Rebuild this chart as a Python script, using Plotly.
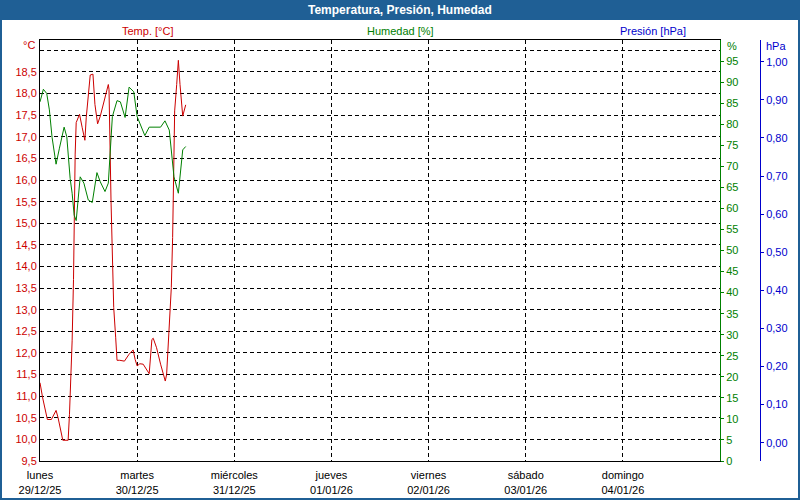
import plotly.graph_objects as go
import pandas as pd

START = pd.Timestamp("2025-12-29 00:00")

# Temperature (°C) readings: hours since start, values
temp_hours = [0.0, 0.66, 1.82, 2.81, 3.97, 4.47, 5.63, 6.95, 7.28, 7.61, 7.94, 8.28, 8.44, 8.69,
              8.94, 9.77, 10.43, 11.09, 11.42, 12.08, 12.41, 13.08, 13.57, 14.23, 14.90, 16.88,
              17.05, 17.55, 17.88, 18.21, 18.70, 19.03, 19.70, 20.86, 22.01, 23.01, 23.50, 24.00,
              24.66, 25.49, 26.98, 27.64, 27.97, 28.80, 29.79, 30.46, 30.95, 31.28, 31.61, 31.78,
              32.11, 32.44, 32.77, 32.94, 33.27, 33.77, 34.18, 34.59, 35.26, 36.00]
temp_values = [11.31, 10.96, 10.46, 10.46, 10.67, 10.50, 9.98, 9.98, 10.58, 11.35, 12.28, 13.70,
               15.05, 16.60, 17.33, 17.52, 17.21, 16.92, 17.44, 18.21, 18.43, 18.45, 17.75, 17.30,
               17.48, 18.21, 18.10, 15.50, 13.90, 13.05, 12.35, 11.83, 11.83, 11.81, 11.97, 12.07,
               11.85, 11.70, 11.75, 11.74, 11.52, 12.31, 12.34, 12.12, 11.74, 11.49, 11.35, 11.50,
               12.12, 12.47, 12.82, 13.51, 14.67, 15.90, 17.60, 18.21, 18.77, 18.21, 17.48, 17.74]

# Humidity (%) readings
hum_hours = [0.0, 0.83, 1.66, 2.32, 2.98, 3.97, 4.80, 5.96, 6.62, 7.45, 7.94, 8.44, 8.94, 9.27,
             9.93, 10.84, 11.92, 12.91, 14.07, 14.90, 16.06, 16.88, 17.21, 17.88, 19.03, 19.86,
             21.02, 22.01, 23.17, 24.00, 25.90, 26.98, 29.79, 30.87, 31.94, 32.77, 33.10, 34.18,
             34.59, 35.26, 36.00]
hum_values = [85.3, 88.3, 87.3, 83.4, 76.9, 70.5, 74.3, 79.3, 77.0, 67.1, 63.6, 58.4, 57.1, 60.5,
              67.5, 66.0, 62.0, 61.4, 68.5, 66.3, 64.0, 66.0, 70.7, 81.8, 85.6, 85.3, 81.6, 88.8,
              87.7, 81.8, 77.3, 79.3, 79.3, 80.8, 78.6, 70.3, 67.5, 63.6, 67.9, 73.9, 74.7]

# Pressure (hPa): no readings
pres_hours = []
pres_values = []

day_ticks = ["2025-12-29", "2025-12-30", "2025-12-31", "2026-01-01", "2026-01-02", "2026-01-03", "2026-01-04"]
day_names = ["lunes", "martes", "miércoles", "jueves", "viernes", "sábado", "domingo"]
day_dates = ["29/12/25", "30/12/25", "31/12/25", "01/01/26", "02/01/26", "03/01/26", "04/01/26"]
x_range = ["2025-12-29", "2026-01-05"]

temp_ticks = [9.5, 10.0, 10.5, 11.0, 11.5, 12.0, 12.5, 13.0, 13.5, 14.0, 14.5, 15.0, 15.5, 16.0,
              16.5, 17.0, 17.5, 18.0, 18.5, 19.0]
temp_range = [9.5, 19.24]
hum_ticks = [0, 5, 10, 15, 20, 25, 30, 35, 40, 45, 50, 55, 60, 65, 70, 75, 80, 85, 90, 95]
hum_range = [0, 100]
pres_ticks = [0.0, 0.1, 0.2, 0.3, 0.4, 0.5, 0.6, 0.7, 0.8, 0.9, 1.0]
pres_range = [-0.048, 1.057]

RED = "#cc0000"
GREEN = "#008000"
BLUE = "#0000cc"
BAR = "#1f5f95"
FONT = "'Liberation Sans', Arial, sans-serif"

def times(hours):
    return [START + pd.Timedelta(hours=h) for h in hours]

fig = go.Figure()
fig.add_trace(go.Scatter(x=times(temp_hours), y=temp_values, mode="lines",
                         line=dict(color=RED, width=1), yaxis="y", hoverinfo="skip"))
fig.add_trace(go.Scatter(x=times(hum_hours), y=hum_values, mode="lines",
                         line=dict(color=GREEN, width=1), yaxis="y2", hoverinfo="skip"))
fig.add_trace(go.Scatter(x=times(pres_hours), y=pres_values, mode="lines",
                         line=dict(color=BLUE, width=1), yaxis="y3", hoverinfo="skip"))

L, R, T, B = 40, 0, 40, 39
W, H = 800, 500
PW = W - L - R
PH = H - T - B

def px(x):
    return (x - L) / PW

def py(y):
    return (H - B - y) / PH

DASH = "4px,3px"

def label(text, x, y, color, xanchor="center", size=11):
    return dict(text=text, xref="paper", yref="paper", x=px(x), y=py(y),
                xanchor=xanchor, yanchor="middle", showarrow=False,
                font=dict(family=FONT, size=size, color=color))

fig.update_layout(
    width=W, height=H,
    margin=dict(l=L, r=R, t=T, b=B, autoexpand=False),
    paper_bgcolor="white", plot_bgcolor="white",
    showlegend=False, separators=",.",
    font=dict(family=FONT, size=11, color="black"),
    xaxis=dict(type="date", range=x_range, domain=[0, (720 - L) / PW], automargin=False,
               tickvals=day_ticks,
               ticktext=[f"{n}<br>{d}" for n, d in zip(day_names, day_dates)],
               showgrid=True, gridcolor="black", griddash=DASH, gridwidth=1,
               showline=True, linecolor="black", linewidth=1, mirror=True,
               ticks="", ticklabelstandoff=4, zeroline=False,
               tickfont=dict(family=FONT, size=11, color="black")),
    yaxis=dict(range=temp_range, tickvals=temp_ticks, automargin=False,
               ticktext=[("" if v == 19.0 else f"{v:.1f}".replace(".", ",")) for v in temp_ticks],
               showgrid=True, gridcolor="black", griddash=DASH, gridwidth=1,
               showline=True, linecolor="black", linewidth=1, ticks="", zeroline=False,
               tickfont=dict(family=FONT, size=11, color=RED)),
    yaxis2=dict(range=hum_range, tickvals=hum_ticks, overlaying="y", side="right", anchor="x",
                automargin=False,
                showgrid=False, showline=True, linecolor=GREEN, linewidth=1,
                ticks="outside", ticklen=3, tickcolor=GREEN, zeroline=False,
                tickfont=dict(family=FONT, size=11, color=GREEN)),
    yaxis3=dict(range=pres_range, tickvals=pres_ticks, tickformat=".2f", overlaying="y",
                side="right", anchor="free", position=(760 - L) / PW, automargin=False,
                showgrid=False, showline=True, linecolor=BLUE, linewidth=1,
                ticks="outside", ticklen=3, tickcolor=BLUE, zeroline=False,
                tickfont=dict(family=FONT, size=11, color=BLUE)),
    shapes=[
        dict(type="rect", xref="paper", yref="paper", x0=px(0), x1=px(800), y0=py(20), y1=py(0),
             fillcolor=BAR, line=dict(width=0), layer="above"),
        dict(type="rect", xref="paper", yref="paper", x0=px(1), x1=px(799), y0=py(499), y1=py(1),
             fillcolor="rgba(0,0,0,0)", line=dict(color=BAR, width=2), layer="above"),
    ],
    annotations=[
        label("<b>Temperatura, Presión, Humedad</b>", 400, 10, "white", size=12),
        label("Temp. [°C]", 147, 31, RED),
        label("Humedad [%]", 400, 31, GREEN),
        label("Presión [hPa]", 653, 31, BLUE),
        label("°C", 37, 45, RED, xanchor="right"),
        label("%", 725, 46, GREEN, xanchor="left"),
        label("hPa", 764, 46, BLUE, xanchor="left"),
    ],
)

fig.write_html("out.html", config={"displayModeBar": False, "staticPlot": True},
               post_script="document.body.style.margin='0';document.body.style.padding='0';")
